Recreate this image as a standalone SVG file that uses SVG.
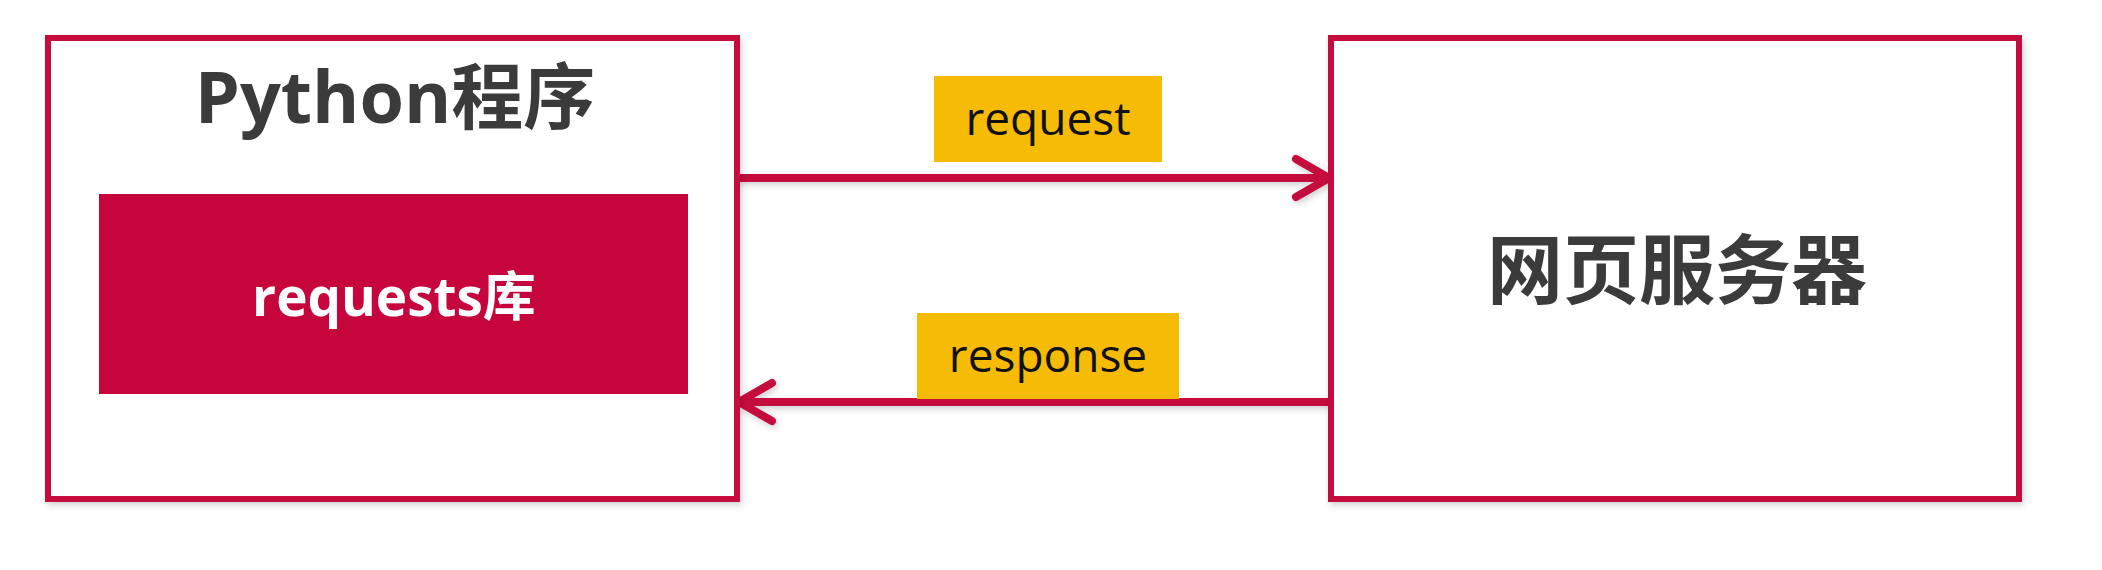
<svg xmlns="http://www.w3.org/2000/svg" width="2102" height="570" viewBox="0 0 2102 570">
  <style>
    .box { fill: #ffffff; stroke: #C50A3E; stroke-width: 6; filter: url(#shadow); }
    .lib { fill: #C5053B; }
    .title { font-family: "Open Sans", "Noto Sans CJK SC", sans-serif; font-weight: 700; fill: #3b3b3b; text-anchor: middle; }
    .libtext { font-family: "Open Sans", "Noto Sans CJK SC", sans-serif; font-weight: 700; fill: #ffffff; text-anchor: middle; font-size: 53px; }
    .tag { fill: #F6BB05; }
    .tagtext { font-family: "Open Sans", "Noto Sans CJK SC", sans-serif; font-size: 46px; fill: #111111; text-anchor: middle; }
    .conn { stroke: #C50A3E; stroke-width: 8; fill: none; marker-end: url(#chev); filter: url(#lineshadow); }
  </style>
  <defs>
    <filter id="shadow" x="-5%" y="-5%" width="110%" height="110%">
      <feDropShadow dx="2" dy="3" stdDeviation="3" flood-color="#000000" flood-opacity="0.18"/>
    </filter>
    <filter id="lineshadow" filterUnits="userSpaceOnUse" x="0" y="0" width="2102" height="570">
      <feDropShadow dx="2" dy="3" stdDeviation="3" flood-color="#000000" flood-opacity="0.18"/>
    </filter>
    <marker id="chev" markerUnits="userSpaceOnUse" markerWidth="60" markerHeight="60" viewBox="-50 -30 60 60" refX="0" refY="0" orient="auto" overflow="visible">
      <path d="M -35 -19 L -2 0 L -35 19" fill="none" stroke="#C50A3E" stroke-width="8" stroke-linecap="round" stroke-linejoin="round"/>
    </marker>
  </defs>
  <rect width="2102" height="570" fill="#ffffff"/>

  <g id="connectors">
    <path class="conn" d="M 737 178 L 1331 178"/>
    <path class="conn" d="M 1331 402 L 737 402"/>
  </g>

  <g id="python-program">
    <rect class="box" x="48" y="38" width="689" height="461"/>
    <text class="title" x="395" y="123" font-size="72">Python程序</text>
  </g>

  <g id="requests-lib">
    <rect class="lib" x="99" y="194" width="589" height="200"/>
    <text class="libtext" x="394" y="316">requests库</text>
  </g>

  <g id="web-server">
    <rect class="box" x="1331" y="38" width="688" height="461"/>
    <text class="title" x="1677" y="298" font-size="76" font-family="Noto Sans CJK SC, sans-serif">网页服务器</text>
  </g>

  <g id="request-label">
    <rect class="tag" x="934" y="76" width="228" height="86"/>
    <text class="tagtext" x="1048" y="135">request</text>
  </g>

  <g id="response-label">
    <rect class="tag" x="917" y="313" width="262" height="86"/>
    <text class="tagtext" x="1048" y="372">response</text>
  </g>
</svg>
